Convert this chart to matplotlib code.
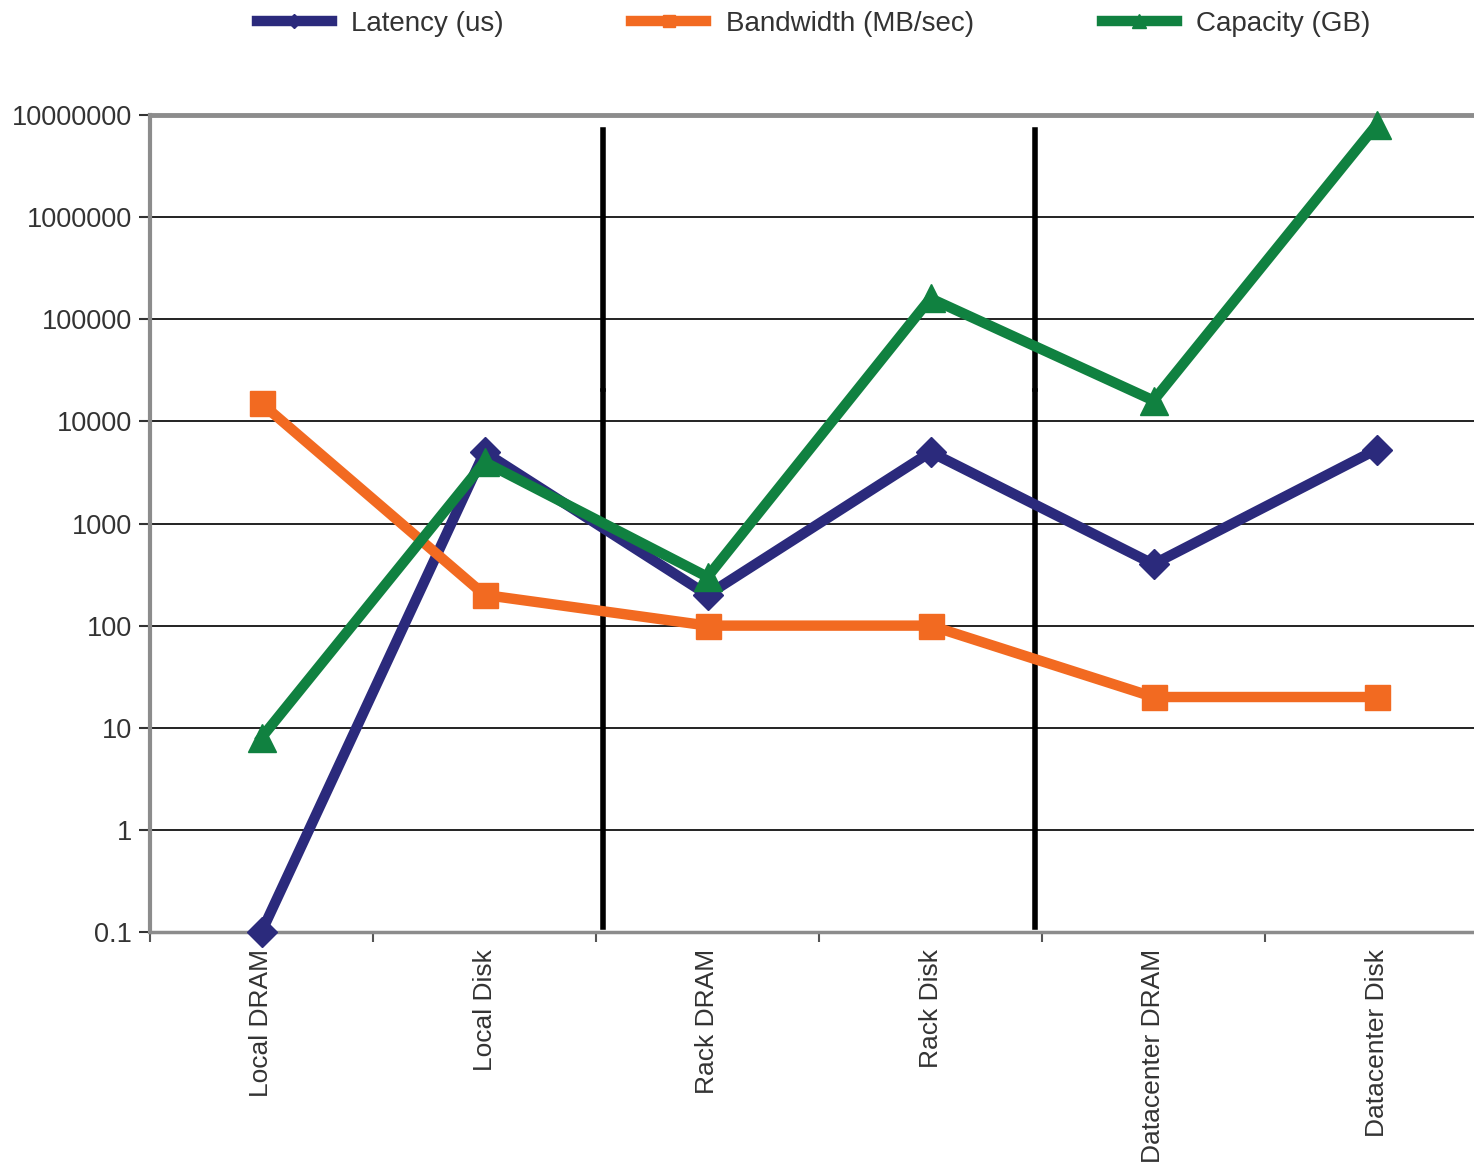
import matplotlib.pyplot as plt
import numpy as np

plt.rcParams['font.family'] = ['Liberation Sans', 'DejaVu Sans']

# storage hierarchy levels
categories = ['Local DRAM', 'Local Disk', 'Rack DRAM', 'Rack Disk',
              'Datacenter DRAM', 'Datacenter Disk']

latency_us = [0.1, 5000, 200, 5000, 400, 5300]
bandwidth_mbs = [15000, 200, 100, 100, 20, 20]
capacity_gb = [8, 4000, 300, 160000, 16000, 8000000]

y_ticks = [0.1, 1, 10, 100, 1000, 10000, 100000, 1000000, 10000000]
y_tick_labels = ['0.1', '1', '10', '100', '1000', '10000', '100000',
                 '1000000', '10000000']

series = [
    ('Latency (us)', latency_us, '#2b2a7c', 'D', 15),
    ('Bandwidth (MB/sec)', bandwidth_mbs, '#f26a21', 's', 18),
    ('Capacity (GB)', capacity_gb, '#108140', '^', 20),
]

fig = plt.figure(figsize=(14.74, 11.67), dpi=100)
ax = fig.add_axes([150 / 1474, 1 - 932 / 1167, 1338 / 1474, 817 / 1167])

x = np.arange(len(categories)) + 0.5
text_color = '#333333'

for label, values, color, marker, ms in series:
    ax.plot(x, values, color=color, linewidth=7.5, marker=marker,
            markersize=ms, label=label, clip_on=False, zorder=3,
            solid_joinstyle='miter')

ax.set_yscale('log')
ax.set_ylim(0.1, 1e7)
ax.set_xlim(0, len(categories))

ax.set_yticks(y_ticks)
ax.set_yticklabels(y_tick_labels)
ax.yaxis.set_minor_locator(plt.NullLocator())
ax.tick_params(axis='y', length=8, width=1.5, color=text_color,
               labelsize=19.5, labelcolor=text_color, pad=5)

# category boundaries as ticks, names centred between them
ax.set_xticks(np.arange(len(categories) + 1))
ax.set_xticklabels([])
ax.set_xticks(x, minor=True)
ax.set_xticklabels(categories, minor=True, rotation=90, va='top', ha='center')
ax.tick_params(axis='x', which='major', length=7, width=1.5, color='#555555')
ax.tick_params(axis='x', which='minor', length=0, labelsize=19,
               labelcolor=text_color, pad=12)

for yv in y_ticks[1:]:
    ax.axhline(yv, color='#222222', linewidth=1.4, zorder=1)

for side in ['top', 'left', 'bottom']:
    ax.spines[side].set_color('#8c8c8c')
ax.spines['top'].set_linewidth(3.5)
ax.spines['left'].set_linewidth(3)
ax.spines['bottom'].set_linewidth(2.5)
ax.spines['right'].set_visible(False)

# separators between local / rack / datacenter groups
for xs in [2.03, 3.97]:
    ax.axvline(xs, ymin=0.006, ymax=0.662, color='black', linewidth=4, zorder=2)
    ax.axvline(xs, ymin=0.665, ymax=0.982, color='black', linewidth=4, zorder=2)

fig.legend(loc='upper center', bbox_to_anchor=(0.552, 1.012), ncol=3,
           frameon=False, fontsize=20, handlelength=2.7, columnspacing=4.6,
           handletextpad=0.7, markerscale=0.5, labelcolor=text_color)

fig.savefig('out.png', dpi=100)
